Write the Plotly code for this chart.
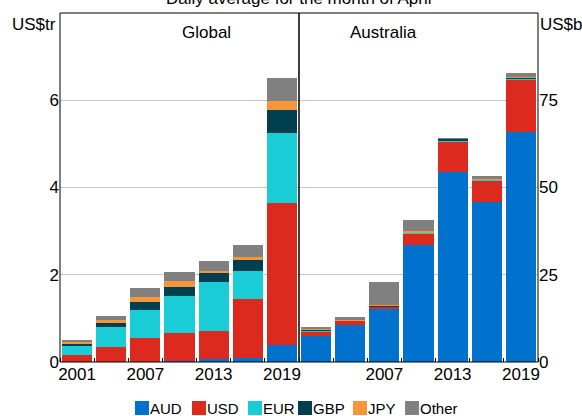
import plotly.graph_objects as go

years = [2001, 2004, 2007, 2010, 2013, 2016, 2019]
currencies = ["AUD", "USD", "EUR", "GBP", "JPY", "Other"]
colors = ["#0072CE", "#DC2A1F", "#19CCD6", "#003F4F", "#F7953A", "#808080"]

# Global turnover, US$ trillion
glob_aud = [0.01, 0.01, 0.01, 0.03, 0.065, 0.10, 0.385]
glob_usd = [0.145, 0.34, 0.535, 0.645, 0.635, 1.35, 3.265]
glob_eur = [0.23, 0.45, 0.645, 0.835, 1.14, 0.64, 1.60]
glob_gbp = [0.035, 0.10, 0.18, 0.22, 0.19, 0.24, 0.53]
glob_jpy = [0.03, 0.055, 0.13, 0.12, 0.06, 0.08, 0.20]
glob_oth = [0.05, 0.09, 0.20, 0.21, 0.23, 0.28, 0.54]

# Australian turnover, US$ billion
aus_aud = [7.57, 10.5, 15.1, 33.4, 54.5, 45.9, 65.9]
aus_usd = [1.23, 1.3, 0.7, 3.4, 8.8, 6.2, 15.1]
aus_eur = [0.2, 0.05, 0.2, 0.2, 0.3, 0.1, 0.3]
aus_gbp = [0.2, 0.05, 0.1, 0.1, 0.3, 0.05, 0.2]
aus_jpy = [0.3, 0.08, 0.2, 0.5, 0.05, 0.05, 0.1]
aus_oth = [0.56, 0.82, 6.6, 3.1, 0.2, 1.1, 1.3]

glob = [glob_aud, glob_usd, glob_eur, glob_gbp, glob_jpy, glob_oth]
aus = [aus_aud, aus_usd, aus_eur, aus_gbp, aus_jpy, aus_oth]

left_ticks = [2001, 2007, 2013, 2019]
right_ticks = [2007, 2013, 2019]
left_yticks = [0, 2, 4, 6]
right_yticks = [0, 25, 50, 75]

FONT = "Arial, Liberation Sans, sans-serif"
FS = 17
W, H = 582, 416
ML, MR, MT, MB = 60, 44, 13, 54
PW, PH = W - ML - MR, H - MT - MB

fig = go.Figure()
for name, col, g, a in zip(currencies, colors, glob, aus):
    fig.add_trace(go.Bar(x=years, y=g, name=name, marker=dict(color=col, line=dict(width=0)),
                         xaxis="x", yaxis="y", showlegend=False))
    fig.add_trace(go.Bar(x=years, y=a, name=name, marker=dict(color=col, line=dict(width=0)),
                         xaxis="x2", yaxis="y2", showlegend=False))

xcommon = dict(range=[1999.5, 2020.5], showgrid=False, zeroline=False, showline=False,
               ticks="", tickfont=dict(size=FS, color="black", family=FONT),
               minor=dict(tick0=2002.5, dtick=3, ticks="inside", ticklen=4,
                          tickcolor="black", tickwidth=1, showgrid=False))
ycommon = dict(domain=[0, 1], showgrid=True, gridcolor="#c8c8c8", gridwidth=1, zeroline=False,
               showline=False, ticks="", tickfont=dict(size=FS, color="black", family=FONT))
fig.update_layout(
    xaxis=dict(domain=[0, 0.5], anchor="y", tickmode="array", tickvals=left_ticks,
               ticktext=[str(t) for t in left_ticks], **xcommon),
    xaxis2=dict(domain=[0.5, 1], anchor="y2", tickmode="array", tickvals=right_ticks,
                ticktext=[str(t) for t in right_ticks], **xcommon),
    yaxis=dict(anchor="x", range=[0, 8], tickvals=left_yticks, **ycommon),
    yaxis2=dict(anchor="x2", side="right", range=[0, 100], tickvals=right_yticks, **ycommon),
    barmode="stack",
    bargap=0.12,
    width=W, height=H,
    margin=dict(l=ML, r=MR, t=MT, b=MB, pad=0),
    plot_bgcolor="white", paper_bgcolor="white",
    font=dict(family=FONT, color="black"),
    showlegend=False,
)

fig.add_shape(type="rect", xref="paper", yref="paper", x0=0, x1=1, y0=0, y1=1,
              line=dict(color="black", width=1), layer="above")
fig.add_shape(type="line", xref="paper", yref="paper", x0=0.5, x1=0.5, y0=0, y1=1,
              line=dict(color="black", width=1.5), layer="above")

fig.add_annotation(text="Daily average for the month of April", xref="paper", yref="paper",
                   x=0.5, y=1, yanchor="bottom", yshift=3, showarrow=False,
                   font=dict(size=FS, family=FONT))
fig.add_annotation(text="Global", xref="paper", yref="paper", x=0.25, y=1, yanchor="top",
                   yshift=-8, showarrow=False, font=dict(size=FS, family=FONT))
fig.add_annotation(text="Australia", xref="paper", yref="paper", x=0.75, y=1, yanchor="top",
                   yshift=-8, showarrow=False, font=dict(size=FS, family=FONT))
fig.add_annotation(text="US$tr", xref="paper", yref="paper", x=0, xanchor="right", xshift=-2,
                   y=1, yanchor="top", yshift=0, showarrow=False, font=dict(size=FS, family=FONT))
fig.add_annotation(text="US$b", xref="paper", yref="paper", x=1, xanchor="left", xshift=0,
                   y=1, yanchor="top", yshift=0, showarrow=False, font=dict(size=FS, family=FONT))

# Legend: coloured swatches with labels (pixel layout converted to paper units)
legend_left_px = [135, 192, 248, 298, 353, 405]
SW = 14
sw_top_px, sw_bot_px = 401, 415
def px_to_paper_x(px):
    return (px - ML) / PW
def px_to_paper_y(py):
    return (H - MB - py) / PH
for name, col, lx in zip(currencies, colors, legend_left_px):
    fig.add_shape(type="rect", xref="paper", yref="paper",
                  x0=px_to_paper_x(lx), x1=px_to_paper_x(lx + SW),
                  y0=px_to_paper_y(sw_bot_px), y1=px_to_paper_y(sw_top_px),
                  line=dict(width=0), fillcolor=col, layer="above")
    fig.add_annotation(text=name, xref="paper", yref="paper",
                       x=px_to_paper_x(lx + SW - 1), xanchor="left",
                       y=px_to_paper_y((sw_top_px + sw_bot_px) / 2 + 0.5), yanchor="middle",
                       showarrow=False, font=dict(size=15, family=FONT))

fig.write_html("out.html", config={"displayModeBar": False},
               post_script="document.body.style.margin='0';")
